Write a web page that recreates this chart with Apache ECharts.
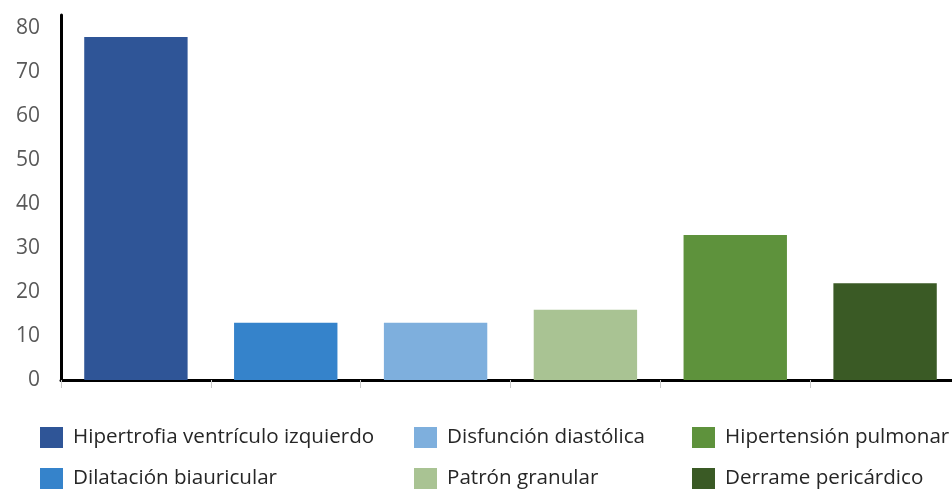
<!DOCTYPE html>
<html><head><meta charset="utf-8">
<script src="https://cdn.jsdelivr.net/npm/echarts@6/dist/echarts.min.js"></script>
<style>html,body{margin:0;padding:0;background:#fff;overflow:hidden;width:952px;height:490px}#c{width:980px;height:490px}</style>
</head><body><div id="c"></div>
<script>
const categories = ["Hipertrofia ventrículo izquierdo","Dilatación biauricular","Disfunción diastólica","Patrón granular","Hipertensión pulmonar","Derrame pericárdico"];
const values = [78, 13, 13, 16, 33, 22];
const colors = ["#2F5597","#3583CB","#7EAFDD","#A9C393","#5E923C","#3A5A25"];
const yTicks = [0,10,20,30,40,50,60,70,80];

const chart = echarts.init(document.getElementById('c'));
const series = categories.map((name, i) => ({
  name: name,
  type: 'bar',
  stack: 'all',
  barWidth: '69%',
  itemStyle: { color: colors[i] },
  data: categories.map((c, j) => j === i ? values[i] : '-')
}));
const legendBase = {
  orient: 'vertical', itemWidth: 23, itemHeight: 21, itemGap: 20,
  icon: 'rect', top: 427, padding: 0, height: 70,
  textStyle: { fontFamily: 'Open Sans', fontSize: 20.6, color: '#262626', padding: [0,0,0,5] }
};
chart.setOption({
  animation: false,
  grid: { left: 61, top: 15, width: 899, bottom: 110, containLabel: false },
  legend: [
    Object.assign({}, legendBase, { left: 40, data: [categories[0], categories[1]] }),
    Object.assign({}, legendBase, { left: 414, data: [categories[2], categories[3]] }),
    Object.assign({}, legendBase, { left: 692, data: [categories[4], categories[5]] })
  ],
  xAxis: {
    type: 'category', data: categories,
    axisLine: { lineStyle: { color: '#000', width: 3 } },
    axisTick: { show: true, interval: 0, length: 8, lineStyle: { color: '#c8c8c8', width: 1 } },
    axisLabel: { show: false }
  },
  yAxis: {
    type: 'value', min: 0, max: 83, interval: 10,
    axisLine: { show: true, lineStyle: { color: '#000', width: 3 } },
    axisTick: { show: false },
    splitLine: { show: false },
    axisLabel: {
      showMaxLabel: false, margin: 21,
      fontFamily: 'Open Sans', fontSize: 21, color: '#595959',
      formatter: v => yTicks.includes(v) ? String(v) : ''
    }
  },
  series: series
});
</script></body></html>
